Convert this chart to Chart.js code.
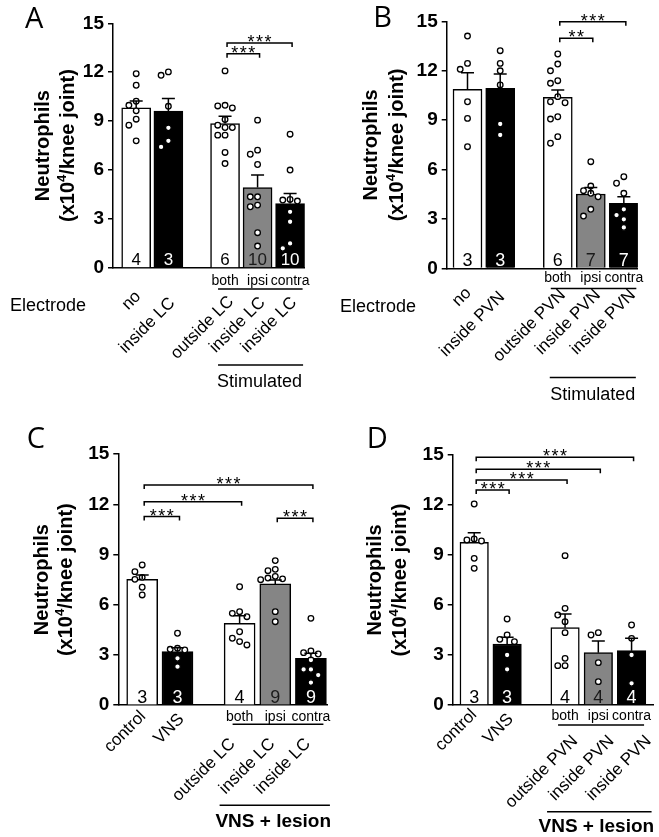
<!DOCTYPE html>
<html lang="en">
<head>
  <meta charset="UTF-8">
  <title>Neutrophils per knee joint</title>
  <script src="https://cdn.jsdelivr.net/npm/chart.js"></script>
  <style>
    body { margin: 0; background: #fff; }
    #fig { position: relative; width: 659px; height: 837px; }
    #fig canvas { position: absolute; }
  </style>
</head>
<body>
  <div id="fig">
    <canvas id="panelA" width="330" height="420" style="left:0;top:0"></canvas>
    <canvas id="panelB" width="329" height="420" style="left:330px;top:0"></canvas>
    <canvas id="panelC" width="345" height="417" style="left:0;top:420px"></canvas>
    <canvas id="panelD" width="329" height="417" style="left:330px;top:420px"></canvas>
  </div>

  <script>
    // Neutrophils (x10^4 / knee joint)

    // A - LC stimulation
    const catsA = ['no', 'inside LC', 'outside LC', 'inside LC', 'inside LC'];
    const sideA = ['', '', 'both', 'ipsi', 'contra'];
    const nA = [4, 3, 6, 10, 10];
    const meanA = [9.81, 9.61, 8.85, 4.93, 3.95];
    const semA = [0.43, 0.78, 0.45, 0.76, 0.62];
    const dotsA = [
      [11.91, 11.2, 10.22, 9.97, 9.63, 9.12, 8.75, 7.79],
      [12.02, 11.81, 9.91, 8.59, 7.79, 7.42],
      [12.08, 9.97, 9.93, 9.81, 9.1, 8.75, 8.61, 8.61, 8.14, 8.14, 7.08, 6.4],
      [9.06, 7.22, 6.97, 6.34, 4.36, 4.36, 3.85, 3.75, 2.16, 1.34],
      [8.2, 6.0, 4.2, 4.16, 4.1, 3.44, 2.83, 1.5, 1.2]
    ];
    const sigA = [[2, 3, '***'], [2, 4, '***']];

    // B - PVN stimulation
    const catsB = ['no', 'inside PVN', 'outside PVN', 'inside PVN', 'inside PVN'];
    const sideB = ['', '', 'both', 'ipsi', 'contra'];
    const nB = [3, 3, 6, 7, 7];
    const meanB = [10.87, 10.93, 10.39, 4.52, 3.95];
    const semB = [1.01, 0.87, 0.45, 0.4, 0.4];
    const dotsB = [
      [14.11, 12.45, 12.09, 10.12, 9.11, 7.39],
      [13.22, 12.45, 12.0, 11.14, 8.77, 8.1],
      [13.02, 12.41, 12.0, 11.4, 11.24, 10.43, 10.12, 10.06, 9.21, 9.07, 8.0, 7.6],
      [6.48, 5.0, 4.72, 4.56, 4.35, 3.59, 3.18],
      [5.57, 5.17, 4.56, 3.59, 3.24, 2.98, 2.49]
    ];
    const sigB = [[2, 3, '**'], [2, 4, '***']];

    // C - VNS + LC lesion
    const catsC = ['control', 'VNS', 'outside LC', 'inside LC', 'inside LC'];
    const sideC = ['', '', 'both', 'ipsi', 'contra'];
    const nC = [3, 3, 4, 9, 9];
    const meanC = [7.52, 3.2, 4.89, 7.25, 2.8];
    const semC = [0.26, 0.24, 0.46, 0.23, 0.3];
    const dotsC = [
      [8.38, 7.98, 7.64, 7.52, 7.05, 6.59],
      [4.3, 3.4, 3.34, 3.3, 2.8, 2.3],
      [7.08, 5.59, 5.49, 5.29, 4.39, 4.0, 3.8, 3.6],
      [8.64, 8.12, 8.04, 7.7, 7.6, 7.55, 7.5, 5.59, 4.99],
      [5.19, 3.24, 3.14, 3.06, 2.7, 2.14, 2.14, 1.8, 1.35]
    ];
    const sigC = [[0, 1, '***'], [0, 2, '***'], [0, 4, '***'], [3, 4, '***']];

    // D - VNS + PVN lesion
    const catsD = ['control', 'VNS', 'outside PVN', 'inside PVN', 'inside PVN'];
    const sideD = ['', '', 'both', 'ipsi', 'contra'];
    const nD = [3, 3, 4, 4, 4];
    const meanD = [9.76, 3.66, 4.64, 3.14, 3.26];
    const semD = [0.58, 0.4, 0.82, 0.7, 0.74];
    const dotsD = [
      [12.06, 9.96, 9.9, 9.84, 8.8, 8.2],
      [5.16, 4.2, 3.94, 3.8, 3.0, 2.14],
      [8.96, 5.8, 5.4, 5.0, 4.34, 2.8, 2.36, 2.36],
      [4.34, 4.2, 2.54, 1.4],
      [4.8, 4.0, 3.0, 1.3]
    ];
    const sigD = [[0, 1, '***'], [0, 2, '***'], [0, 3, '***'], [0, 4, '***']];

    const yTicks = [0, 3, 6, 9, 12, 15];

    // ---- layout / style ----
    const FONT = "'Liberation Sans', Arial, sans-serif";
    const WHITE = '#ffffff', BLACK = '#000000', GRAY = '#858585';
    const fills = [WHITE, BLACK, WHITE, GRAY, BLACK];
    const ink = { [WHITE]: '#000', [BLACK]: '#fff', [GRAY]: '#1a1a1a' };
    const slots = [0, 1, 2.76, 3.77, 4.78];

    const panels = [
      { id: 'panelA', letter: 'A', cats: catsA, side: sideA, n: nA, mean: meanA, sem: semA, dots: dotsA, sig: sigA,
        group: 'Stimulated', groupBold: false, electrode: true,
        L: { left: 113, right: 304.9, top: 23.3, bottom: 267.9, xMin: -0.72, xMax: 5.24, barW: 29,
             titleX: [43.5, 68], letterAt: [25, 28], nSize: 17, nLift: 3, subDy: 13, ulDy: 21,
             grpLine: 97, grpText: 114, grpL: -7, grpR: 13, electrodeY: 305.7,
             tickDx: [2, 4, 6, 5, 4], tickDy: [26, 32.5, 31, 32, 32], bracketAt: [13.14, 13.79] } },
      { id: 'panelB', letter: 'B', cats: catsB, side: sideB, n: nB, mean: meanB, sem: semB, dots: dotsB, sig: sigB,
        group: 'Stimulated', groupBold: false, electrode: true,
        L: { left: 116.7, right: 307.9, top: 21.4, bottom: 268.4, xMin: -0.636, xMax: 5.21, barW: 29,
             titleX: [41.7, 67.5], letterAt: [43.3, 26.7], nSize: 18, nLift: 2, subDy: 10, ulDy: 20,
             grpLine: 109, grpText: 126.6, grpL: -8, grpR: 12, electrodeY: 306.7,
             tickDx: [1, 2, 5, 7, 9], tickDy: [22, 26, 24, 24, 24], bracketAt: [13.97, 14.98] } },
      { id: 'panelC', letter: 'C', cats: catsC, side: sideC, n: nC, mean: meanC, sem: semC, dots: dotsC, sig: sigC,
        group: 'VNS + lesion', groupBold: true, electrode: false,
        L: { left: 118.3, right: 327.5, top: 34.2, bottom: 285.2, xMin: -0.677, xMax: 5.25, barW: 31,
             titleX: [42.5, 66.7], letterAt: [26.7, 28.3], nSize: 18, nLift: 2, subDy: 12, ulDy: 19,
             grpLine: 100, grpText: 116.5, grpL: -20, grpR: 19,
             tickDx: [1, 4, -7, -3, -3], tickDy: [8.5, 11.5, 36, 36, 36], bracketAt: [11.27, 12.16, 13.16, 11.17] } },
      { id: 'panelD', letter: 'D', cats: catsD, side: sideD, n: nD, mean: meanD, sem: semD, dots: dotsD, sig: sigD,
        group: 'VNS + lesion', groupBold: true, electrode: false,
        L: { left: 122.7, right: 323.3, top: 35, bottom: 285, xMin: -0.653, xMax: 5.44, barW: 28.5,
             titleX: [45.8, 70], letterAt: [36.7, 28.3], nSize: 18, nLift: 2, subDy: 11, ulDy: 20,
             grpLine: 106.7, grpText: 121.7, grpL: -18, grpR: 20,
             tickDx: [0, 3.5, 10, 13, 17], tickDy: [7, 11.7, 33.5, 33.5, 33.5], bracketAt: [12.9, 13.5, 14.14, 14.86] } }
    ];

    // simple beeswarm: horizontal pixel offsets so circles don't overlap
    function swarm(vals, perUnit, gap) {
      const placed = [];
      return vals.map(v => {
        const py = v * perUnit;
        let off = 0;
        for (const t of [0, -1, 1, -2, 2, -3, 3]) {
          off = t * gap;
          if (placed.every(q => Math.hypot(q[0] - off, q[1] - py) >= gap - 0.5)) break;
        }
        placed.push([off, py]);
        return off;
      });
    }

    function figurePlugin(p) {
      const L = p.L;
      return {
        id: 'figure' + p.letter,
        afterDatasetsDraw(chart) {
          const ctx = chart.ctx, xs = chart.scales.x, ys = chart.scales.y;
          ctx.save();
          // error bars (mean + SEM)
          ctx.strokeStyle = '#000';
          ctx.lineWidth = 1.5;
          p.mean.forEach((m, i) => {
            const x = xs.getPixelForValue(slots[i]);
            const y0 = ys.getPixelForValue(m), y1 = ys.getPixelForValue(m + p.sem[i]);
            ctx.beginPath();
            ctx.moveTo(x, y0); ctx.lineTo(x, y1);
            ctx.moveTo(x - 6.5, y1); ctx.lineTo(x + 6.5, y1);
            ctx.stroke();
          });
          // n inside the bars
          ctx.font = `${L.nSize}px ${FONT}`;
          ctx.textAlign = 'center';
          ctx.textBaseline = 'alphabetic';
          p.n.forEach((n, i) => {
            ctx.fillStyle = ink[fills[i]];
            ctx.fillText(String(n), xs.getPixelForValue(slots[i]), ys.bottom - L.nLift);
          });
          ctx.restore();
        },
        afterDraw(chart) {
          const ctx = chart.ctx, xs = chart.scales.x, ys = chart.scales.y;
          const cx = i => xs.getPixelForValue(slots[i]);
          const base = ys.bottom;
          ctx.save();
          ctx.fillStyle = '#000';
          ctx.strokeStyle = '#000';
          ctx.lineWidth = 1.5;

          // significance brackets
          p.sig.forEach(([a, b, label], k) => {
            const y = ys.getPixelForValue(L.bracketAt[k]);
            const xa = cx(a) + 2, xb = cx(b) + 2;
            ctx.beginPath();
            ctx.moveTo(xa, y + 4); ctx.lineTo(xa, y); ctx.lineTo(xb, y); ctx.lineTo(xb, y + 4);
            ctx.stroke();
            ctx.font = `18px ${FONT}`;
            ctx.textAlign = 'center';
            ctx.textBaseline = 'alphabetic';
            const mid = (xa + xb) / 2;
            [...label].forEach((s, j) => ctx.fillText(s, mid + (j - (label.length - 1) / 2) * 8.5, y + 5));
          });

          // both / ipsi / contra row and its underline
          ctx.font = `14px ${FONT}`;
          ctx.textAlign = 'center';
          ctx.textBaseline = 'middle';
          p.side.forEach((s, i) => { if (s) ctx.fillText(s, cx(i), base + L.subDy); });
          ctx.beginPath();
          ctx.moveTo(cx(2) - 7, base + L.ulDy); ctx.lineTo(cx(4) + 12.5, base + L.ulDy);
          ctx.stroke();

          // rotated category labels
          ctx.font = `17px ${FONT}`;
          ctx.textAlign = 'right';
          ctx.textBaseline = 'middle';
          p.cats.forEach((c, i) => {
            ctx.save();
            ctx.translate(cx(i) + L.tickDx[i], base + L.tickDy[i]);
            ctx.rotate(-Math.PI / 4);
            ctx.fillText(c, 0, 0);
            ctx.restore();
          });

          // group line and caption
          ctx.beginPath();
          ctx.moveTo(cx(2) + L.grpL, base + L.grpLine); ctx.lineTo(cx(4) + L.grpR, base + L.grpLine);
          ctx.stroke();
          ctx.font = `${p.groupBold ? 'bold 19px' : '18px'} ${FONT}`;
          ctx.textAlign = 'center';
          ctx.fillText(p.group, (cx(2) + cx(4)) / 2 + (p.groupBold ? -2 : 2), base + L.grpText);

          if (p.electrode) {
            ctx.font = `18px ${FONT}`;
            ctx.textAlign = 'left';
            ctx.fillText('Electrode', 10, L.electrodeY);
          }

          // y axis title (two lines, rotated)
          const midY = (ys.top + ys.bottom) / 2;
          ctx.textAlign = 'center';
          ctx.textBaseline = 'middle';
          ctx.save();
          ctx.translate(L.titleX[0], midY);
          ctx.rotate(-Math.PI / 2);
          ctx.font = `bold 20px ${FONT}`;
          ctx.fillText('Neutrophils', 0, 0);
          ctx.restore();

          ctx.save();
          ctx.translate(L.titleX[1], midY);
          ctx.rotate(-Math.PI / 2);
          ctx.textAlign = 'left';
          const big = `bold 20px ${FONT}`, small = `bold 13px ${FONT}`;
          ctx.font = big;
          const w1 = ctx.measureText('(x10').width, w3 = ctx.measureText('/knee joint)').width;
          ctx.font = small;
          const w2 = ctx.measureText('4').width;
          let x0 = -(w1 + w2 + w3) / 2;
          ctx.font = big; ctx.fillText('(x10', x0, 0); x0 += w1;
          ctx.font = small; ctx.fillText('4', x0, -6); x0 += w2;
          ctx.font = big; ctx.fillText('/knee joint)', x0, 0);
          ctx.restore();

          // panel letter
          ctx.font = `29px 'Open Sans', ${FONT}`;
          ctx.textAlign = 'left';
          ctx.textBaseline = 'alphabetic';
          ctx.fillText(p.letter, L.letterAt[0], L.letterAt[1]);
          ctx.restore();
        }
      };
    }

    panels.forEach(p => {
      const L = p.L;
      const canvas = document.getElementById(p.id);
      const W = canvas.width, H = canvas.height;
      const pitch = (L.right - L.left) / (L.xMax - L.xMin);
      const perUnit = (L.bottom - L.top) / 15;

      const bars = p.mean.map((m, i) => ({ x: slots[i], y: m }));
      const dots = [];
      p.dots.forEach((vals, i) => {
        const offs = swarm(vals, perUnit, 7.3);
        vals.forEach((v, j) => dots.push({ x: slots[i] + offs[j] / pitch, y: v }));
      });

      new Chart(canvas, {
        type: 'bar',
        data: {
          datasets: [
            {
              type: 'scatter',
              data: dots,
              pointRadius: 2.8,
              pointBackgroundColor: '#fff',
              pointBorderColor: '#000',
              pointBorderWidth: 1.3,
              order: 0
            },
            {
              type: 'bar',
              data: bars,
              backgroundColor: fills,
              borderColor: '#000',
              borderWidth: 1.5,
              barThickness: L.barW,
              order: 1
            }
          ]
        },
        options: {
          responsive: false,
          animation: false,
          devicePixelRatio: 1,
          layout: { padding: { left: 0, top: L.top, right: W - L.right, bottom: H - L.bottom } },
          plugins: { legend: { display: false }, tooltip: { enabled: false } },
          scales: {
            x: {
              type: 'linear',
              min: L.xMin,
              max: L.xMax,
              offset: false,
              grid: { display: false, drawTicks: false },
              ticks: { display: false },
              border: { display: true, color: '#000', width: 1.5 },
              afterFit: s => { s.height = 0; }
            },
            y: {
              min: 0,
              max: 15,
              afterBuildTicks: s => { s.ticks = yTicks.map(v => ({ value: v })); },
              ticks: { color: '#000', padding: 4, font: { family: FONT, size: 19, weight: 'bold' } },
              grid: { drawOnChartArea: false, drawTicks: true, tickLength: 5, color: '#000', lineWidth: 1.5 },
              border: { display: true, color: '#000', width: 1.5 },
              afterFit: s => { s.width = L.left; }
            }
          }
        },
        plugins: [figurePlugin(p)]
      });
    });
  </script>
</body>
</html>
